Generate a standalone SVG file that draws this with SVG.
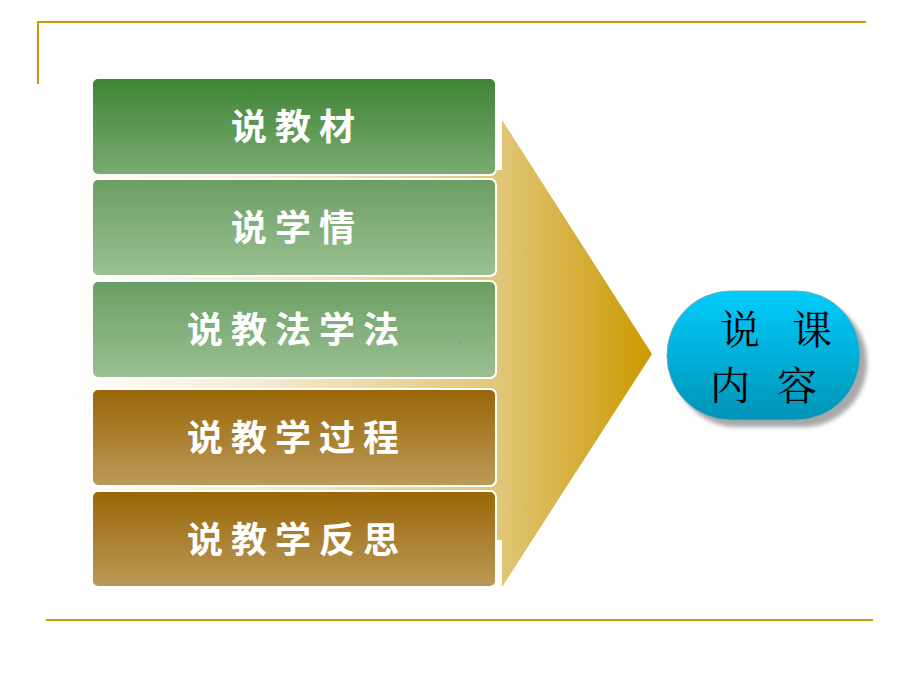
<svg xmlns="http://www.w3.org/2000/svg" width="920" height="690" viewBox="0 0 920 690">
<defs>
<linearGradient id="gArrow" x1="65" y1="0" x2="652" y2="0" gradientUnits="userSpaceOnUse">
<stop offset="0" stop-color="#ffffff"/>
<stop offset="0.3" stop-color="#f7eed8"/>
<stop offset="0.74" stop-color="#e0c677"/>
<stop offset="1" stop-color="#cc9900"/>
</linearGradient>
<linearGradient id="gGreen1" x1="0" y1="0" x2="0" y2="1">
<stop offset="0" stop-color="#3e8434"/>
<stop offset="1" stop-color="#7aab73"/>
</linearGradient>
<linearGradient id="gGreen2" x1="0" y1="0" x2="0" y2="1">
<stop offset="0" stop-color="#6b9e63"/>
<stop offset="1" stop-color="#9bc093"/>
</linearGradient>
<linearGradient id="gBrown" x1="0" y1="0" x2="0" y2="1">
<stop offset="0" stop-color="#996607"/>
<stop offset="1" stop-color="#bb9a59"/>
</linearGradient>
<linearGradient id="gCyan" x1="0" y1="0" x2="0" y2="1">
<stop offset="0" stop-color="#00ccfb"/>
<stop offset="1" stop-color="#0094b6"/>
</linearGradient>
<filter id="blur" x="-20%" y="-20%" width="140%" height="140%">
<feGaussianBlur stdDeviation="2"/>
</filter>
</defs>
<style>
.frame{stroke:#cc9900;stroke-width:2;fill:none}
.box{stroke:#ffffff;stroke-width:2}
.lbl{font-family:"Noto Sans CJK SC","Noto Sans CJK JP",sans-serif;font-weight:bold;font-size:36px;fill:#ffffff;text-anchor:middle;letter-spacing:8px}
.oval{font-family:"Noto Serif CJK SC","Noto Sans CJK SC",serif;font-size:40px;fill:#000000}
</style>
<g id="frame">
<polyline class="frame" points="38,84 38,22 866,22"/>
<line class="frame" x1="46" y1="620" x2="873" y2="620"/>
</g>
<g id="arrow">
<polygon points="65,170 502,170 502,120 652,354 502,587 502,540 65,540" fill="url(#gArrow)"/>
</g>
<g id="box1">
<rect class="box" x="92" y="78" width="404" height="97" rx="6" fill="url(#gGreen1)"/>
<text class="lbl" x="297" y="140">说教材</text>
</g>
<g id="box2">
<rect class="box" x="92" y="179" width="404" height="97" rx="6" fill="url(#gGreen2)"/>
<text class="lbl" x="297" y="241">说学情</text>
</g>
<g id="box3">
<rect class="box" x="92" y="281" width="404" height="97" rx="6" fill="url(#gGreen2)"/>
<text class="lbl" x="297" y="343">说教法学法</text>
<rect x="458" y="340" width="4" height="4" fill="#8aa884"/>
</g>
<g id="box4">
<rect class="box" x="92" y="389" width="404" height="97" rx="6" fill="url(#gBrown)"/>
<text class="lbl" x="297" y="451">说教学过程</text>
</g>
<g id="box5">
<rect class="box" x="92" y="491" width="404" height="96" rx="6" fill="url(#gBrown)"/>
<text class="lbl" x="297" y="553">说教学反思</text>
</g>
<g id="target">
<rect x="673" y="298" width="194" height="129" rx="64" fill="#a9a9a9" filter="url(#blur)"/>
<rect x="667" y="291" width="193" height="129" rx="64" fill="url(#gCyan)" stroke="#7fa7b3" stroke-width="1"/>
<text class="oval" x="720" y="344">说</text>
<text class="oval" x="792" y="344">课</text>
<text class="oval" x="710" y="400">内</text>
<text class="oval" x="777" y="400">容</text>
</g>
</svg>
